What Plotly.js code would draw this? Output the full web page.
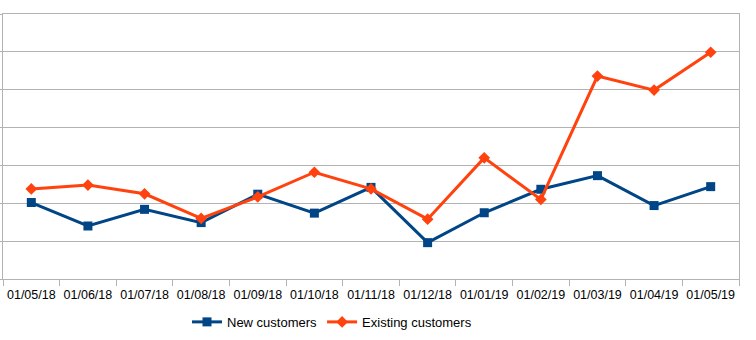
<!DOCTYPE html>
<html>
<head>
<meta charset="utf-8">
<script src="https://cdn.plot.ly/plotly-3.0.1.min.js"></script>
<style>html,body{margin:0;padding:0;background:#fff;}#chart{width:756px;height:340px;}</style>
</head>
<body>
<div id="chart"></div>
<script>
const categories = ["01/05/18","01/06/18","01/07/18","01/08/18","01/09/18","01/10/18","01/11/18","01/12/18","01/01/19","01/02/19","01/03/19","01/04/19","01/05/19"];
const newCustomers = [2.02,1.40,1.84,1.49,2.24,1.74,2.42,0.96,1.75,2.37,2.73,1.94,2.44];
const existingCustomers = [2.38,2.48,2.25,1.60,2.17,2.82,2.38,1.58,3.20,2.10,5.36,4.99,5.99];

const traces = [
  {x: categories, y: newCustomers, name: "New customers", type: "scatter", mode: "lines+markers",
   line: {color: "#004586", width: 3}, marker: {symbol: "square", size: 9, color: "#004586"}},
  {x: categories, y: existingCustomers, name: "Existing customers", type: "scatter", mode: "lines+markers",
   line: {color: "#ff420e", width: 3}, marker: {symbol: "diamond", size: 9, color: "#ff420e"}}
];

const layout = {
  width: 756, height: 340,
  margin: {l: 3, r: 17, t: 14, b: 61},
  paper_bgcolor: "#fff", plot_bgcolor: "#fff",
  font: {family: "Liberation Sans, Arial, sans-serif", size: 13, color: "#000"},
  showlegend: true,
  legend: {orientation: "h", x: 0.25, xanchor: "left", y: -0.162, yanchor: "middle",
           itemwidth: 30, font: {size: 13, color: "#000"}},
  xaxis: {type: "category", range: [-0.5, categories.length - 0.5], autorange: false,
          showgrid: false, showline: true, linecolor: "#b3b3b3", linewidth: 1, mirror: true,
          ticks: "outside", ticklen: 6, tickcolor: "#b3b3b3", tickson: "boundaries", tickangle: 0,
          ticklabelstandoff: 4,
          tickfont: {size: 12.5, color: "#000"}, zeroline: false, fixedrange: true},
  yaxis: {range: [0, 7], dtick: 1, showgrid: true, gridcolor: "#b3b3b3", gridwidth: 1,
          showline: true, linecolor: "#b3b3b3", mirror: true, ticks: "outside", ticklen: 3, tickcolor: "#b3b3b3",
          showticklabels: false, zeroline: false}
};

Plotly.newPlot("chart", traces, layout, {displayModeBar: false, staticPlot: true});
</script>
</body>
</html>
